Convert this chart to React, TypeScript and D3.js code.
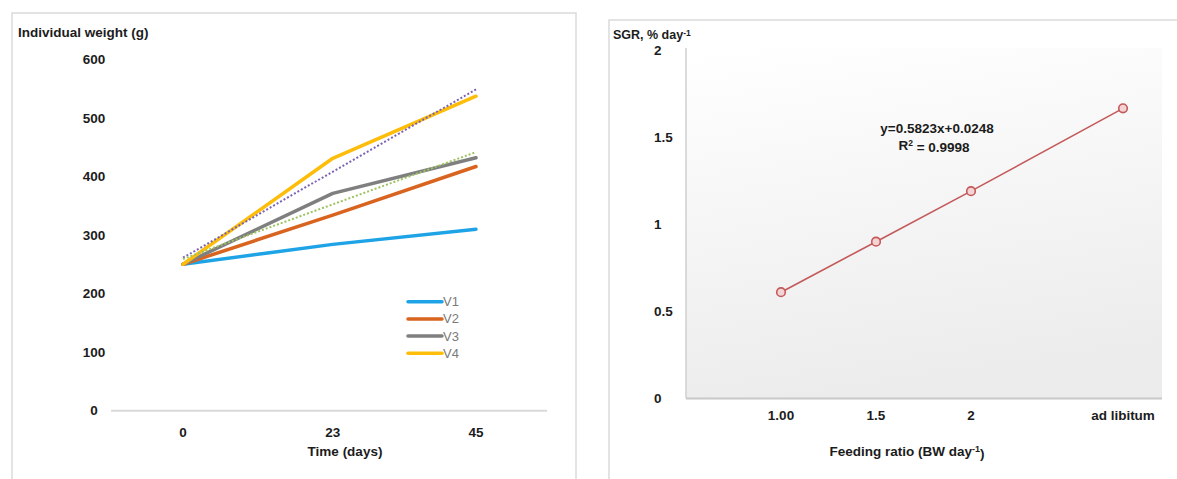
import React from "react";
import * as d3 from "d3";

// left chart: individual weight over time
const days = [0, 23, 45];
const dayLabels = ["0", "23", "45"];
const v1 = [250, 284, 310];
const v2 = [250, 334, 417];
const v3 = [250, 371, 432];
const v4 = [250, 431, 537];
const seriesNames = ["V1", "V2", "V3", "V4"];
const seriesColors = ["#1ea4e6", "#d9641f", "#7f7f7f", "#fdbd0a"];
const weightTicks = [0, 100, 200, 300, 400, 500, 600];

// right chart: SGR vs feeding ratio
const feedRatio = [1, 1.5, 2, 2.8];
const feedLabels = ["1.00", "1.5", "2", "ad libitum"];
const sgr = [0.61, 0.9, 1.19, 1.665];
const sgrTicks = [0, 0.5, 1, 1.5, 2];

const FONT = "'Liberation Sans', Arial, sans-serif";
const NARROW = "'Liberation Sans Narrow', 'Arial Narrow', 'Liberation Sans', sans-serif";
const INK = "#1c1c1c";

function fit(xs: number[], ys: number[]) {
  const mx = d3.mean(xs)!;
  const my = d3.mean(ys)!;
  let num = 0;
  let den = 0;
  xs.forEach((x, i) => {
    num += (x - mx) * (ys[i] - my);
    den += (x - mx) * (x - mx);
  });
  const slope = num / den;
  return (x: number) => my + slope * (x - mx);
}

const WeightChart = () => {
  const x = d3.scaleLinear().domain([0, 45]).range([183, 476]);
  const y = d3.scaleLinear().domain([0, 600]).range([410.7, 59.3]);
  const series = [v1, v2, v3, v4];
  const line = d3
    .line<number>()
    .x((d, i) => x(days[i]))
    .y((d) => y(d));

  const trends = [
    { f: fit(days, v4), color: "#7b62b3" },
    { f: fit(days, v3), color: "#9dc35f" },
  ];

  return (
    <g>
      <rect x={12} y={13} width={564} height={480} fill="#fff" stroke="#dadada" strokeWidth={1.5} />
      <text x={18} y={32} dy="0.35em" fontFamily={FONT} fontWeight="bold" fontSize={13.5} fill={INK}>
        Individual weight (g)
      </text>
      {weightTicks.map((t) => (
        <text key={t} x={94} y={y(t)} dy="0.35em" textAnchor="middle" fontFamily={FONT} fontWeight="bold" fontSize={13.5} fill={INK}>
          {t}
        </text>
      ))}
      <line x1={111} x2={547} y1={y(0)} y2={y(0)} stroke="#d9d9d9" strokeWidth={2} />
      {days.map((d, i) => (
        <text key={d} x={x(d)} y={432.7} dy="0.35em" textAnchor="middle" fontFamily={FONT} fontWeight="bold" fontSize={13.5} fill={INK}>
          {dayLabels[i]}
        </text>
      ))}
      <text x={345} y={451.7} dy="0.35em" textAnchor="middle" fontFamily={FONT} fontWeight="bold" fontSize={13.5} fill={INK}>
        Time (days)
      </text>

      {series.map((s, i) => (
        <path key={i} d={line(s)!} fill="none" stroke={seriesColors[i]} strokeWidth={3.5} strokeLinejoin="round" strokeLinecap="round" />
      ))}
      {trends.map((t, i) => (
        <line
          key={i}
          x1={x(0)}
          y1={y(t.f(0))}
          x2={x(45)}
          y2={y(t.f(45))}
          stroke={t.color}
          strokeWidth={2}
          strokeDasharray="2,2"
        />
      ))}

      {seriesNames.map((n, i) => (
        <g key={n} transform={`translate(0,${301.7 + i * 17.2})`}>
          <line x1={408} x2={442} y1={0} y2={0} stroke={seriesColors[i]} strokeWidth={3.5} strokeLinecap="round" />
          <text x={443} y={0} dy="0.35em" fontFamily={NARROW} fontSize={13} fill="#7a7a7a">
            {n}
          </text>
        </g>
      ))}
    </g>
  );
};

const SgrChart = () => {
  const x = d3.scaleLinear().domain([1, 2]).range([781, 971]);
  const y = d3.scaleLinear().domain([0, 2]).range([398.5, 50]);
  const line = d3
    .line<number>()
    .x((d, i) => x(feedRatio[i]))
    .y((d) => y(d));
  const pts = sgr.map((v, i) => [x(feedRatio[i]), y(v)]);

  return (
    <g>
      <defs>
        <linearGradient id="plotBg" x1="0" y1="0" x2="0.2" y2="1">
          <stop offset="0" stopColor="#ffffff" />
          <stop offset="1" stopColor="#ececec" />
        </linearGradient>
      </defs>
      <path d="M609,500 L609,20 L1190,20" fill="none" stroke="#dadada" strokeWidth={1.5} />
      <rect x={686} y={y(2) - 2} width={476} height={y(0) - y(2) + 2} fill="url(#plotBg)" />
      <line x1={686} x2={686} y1={y(2) - 2} y2={y(0)} stroke="#cfcfcf" strokeWidth={1.5} />
      <line x1={686} x2={1162} y1={y(0)} y2={y(0)} stroke="#c8c8c8" strokeWidth={2} />

      <text x={613} y={35} dy="0.35em" fontFamily={FONT} fontWeight="bold" fontSize={12.5} fill={INK}>
        SGR, % day
        <tspan dy="-0.45em" fontSize={8.5}>-1</tspan>
      </text>
      {sgrTicks.map((t) => (
        <text key={t} x={654} y={y(t)} dy="0.35em" fontFamily={FONT} fontWeight="bold" fontSize={13.5} fill={INK}>
          {t}
        </text>
      ))}
      {feedRatio.map((f, i) => (
        <text key={f} x={x(f)} y={415.5} dy="0.35em" textAnchor="middle" fontFamily={FONT} fontWeight="bold" fontSize={13.5} fill={INK}>
          {feedLabels[i]}
        </text>
      ))}
      <text x={907} y={451} dy="0.35em" textAnchor="middle" fontFamily={FONT} fontWeight="bold" fontSize={13.5} fill={INK}>
        Feeding ratio (BW day
        <tspan dy="-0.4em" fontSize={9}>-1</tspan>
        <tspan dy="0.4em">)</tspan>
      </text>

      <path d={line(sgr)!} fill="none" stroke="#c4595a" strokeWidth={1.6} />
      {pts.map(([cx, cy], i) => (
        <circle key={i} cx={cx} cy={cy} r={4.3} fill="#f3d3d3" stroke="#c4595a" strokeWidth={1.6} />
      ))}

      <text x={937} y={128.3} dy="0.35em" textAnchor="middle" fontFamily={FONT} fontWeight="bold" fontSize={13.5} fill={INK}>
        y=0.5823x+0.0248
      </text>
      <text x={934} y={145} dy="0.35em" textAnchor="middle" fontFamily={FONT} fontWeight="bold" fontSize={13.5} fill={INK}>
        R<tspan dy="-0.45em" fontSize={8.5}>2</tspan>
        <tspan dy="0.45em"> = 0.9998</tspan>
      </text>
    </g>
  );
};

export default function App() {
  return (
    <svg width={1177} height={479} style={{ position: "absolute", left: 0, top: 0, background: "#fff" }}>
      <rect width={1177} height={479} fill="#fff" />
      <WeightChart />
      <SgrChart />
    </svg>
  );
}
